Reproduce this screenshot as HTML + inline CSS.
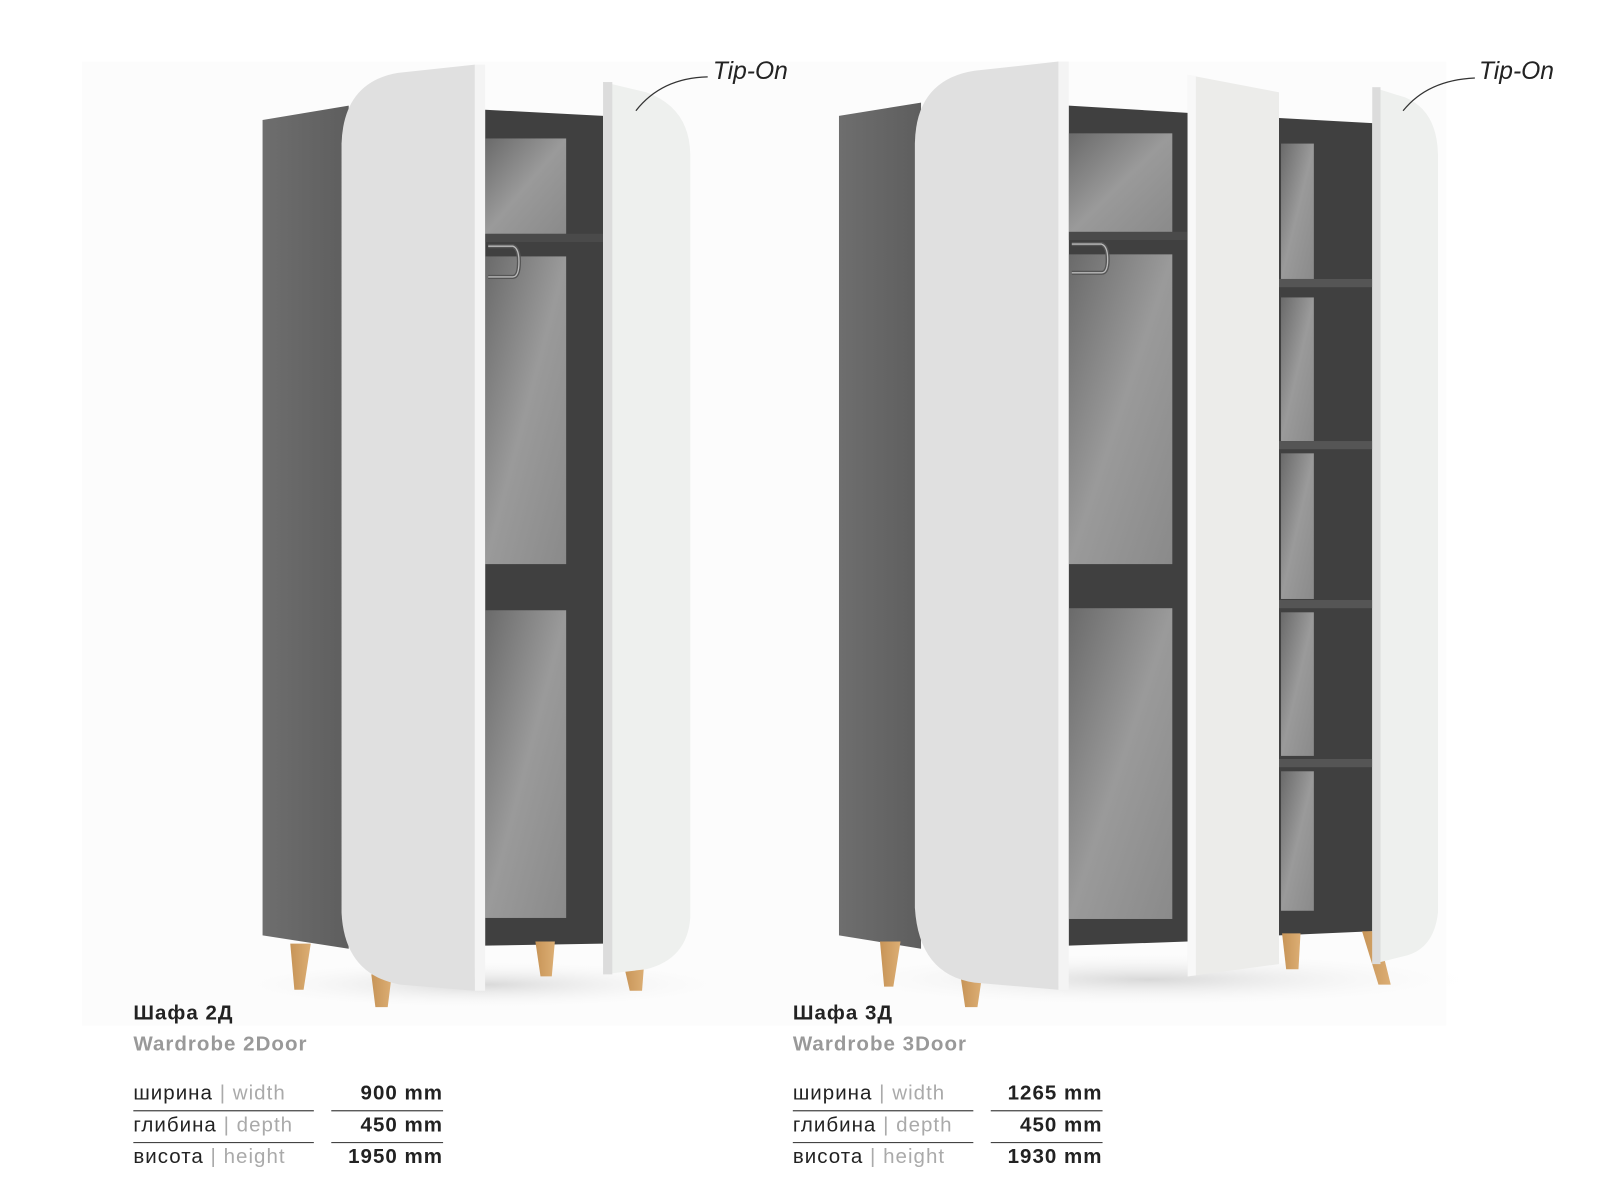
<!DOCTYPE html>
<html><head><meta charset="utf-8"><style>
html,body{margin:0;padding:0;background:#fff;width:1600px;height:1200px;overflow:hidden}
svg{display:block}
text{font-family:"Liberation Sans","DejaVu Sans",sans-serif}
</style></head><body>
<svg width="1600" height="1200" viewBox="0 0 1560 1170" xmlns="http://www.w3.org/2000/svg">
<defs>
<linearGradient id="back" x1="0" y1="0" x2="1" y2="1"><stop offset="0" stop-color="#6a6a6a"/><stop offset="0.5" stop-color="#9a9a9a"/><stop offset="1" stop-color="#8a8a8a"/></linearGradient>
<linearGradient id="side" x1="0" y1="0" x2="1" y2="0"><stop offset="0" stop-color="#6e6e6e"/><stop offset="1" stop-color="#5e5e5e"/></linearGradient>
<linearGradient id="wood" x1="0" y1="0" x2="1" y2="0"><stop offset="0" stop-color="#c79457"/><stop offset="1" stop-color="#dcae74"/></linearGradient>
<radialGradient id="sh" cx="0.5" cy="0.5" r="0.5"><stop offset="0" stop-color="#d8d8d8"/><stop offset="1" stop-color="#ffffff" stop-opacity="0"/></radialGradient>
</defs>
<rect x="80" y="60" width="1330" height="940" fill="#fcfcfc"/>
<ellipse cx="470" cy="960" rx="260" ry="25" fill="url(#sh)"/>
<ellipse cx="1120" cy="955" rx="330" ry="28" fill="url(#sh)"/>

<!-- LEFT WARDROBE -->
<polygon points="256,117 340,103 340,925 256,912" fill="url(#side)"/>
<polygon points="473,107 588,113 588,920 473,922" fill="#404040"/>
<rect x="473" y="135" width="79" height="93" fill="url(#back)"/>
<rect x="473" y="250" width="79" height="300" fill="url(#back)"/>
<rect x="473" y="595" width="79" height="300" fill="url(#back)"/>
<rect x="473" y="228" width="115" height="8" fill="#4a4a4a"/>
<path d="M476,240 H500 Q506,242 506,255 Q506,270 500,270 H476" fill="none" stroke="#555" stroke-width="4"/>
<path d="M476,240 H500 Q506,242 506,255 Q506,270 500,270 H476" fill="none" stroke="#bbb" stroke-width="1.3"/>
<polygon points="283,920 303,920 296,965 287,965" fill="url(#wood)"/>
<polygon points="362,950 382,950 378,982 366,982" fill="url(#wood)"/>
<polygon points="522,918 541,918 538,952 527,952" fill="url(#wood)"/>
<polygon points="608,940 628,940 626,966 614,966" fill="url(#wood)"/>
<path d="M463,63 L388,71 Q335,80 333,140 L333,890 Q336,950 390,960 L463,966 Z" fill="#e0e0e0"/>
<rect x="463" y="63" width="10" height="903" fill="#f4f4f4"/>
<path d="M588,80 L630,90 Q672,105 673,150 L673,895 Q670,935 630,945 L588,950 Z" fill="#eef0ee"/>
<rect x="588" y="80" width="9" height="870" fill="#dcdcdc"/>
<path d="M620,108 Q645,76 690,75" fill="none" stroke="#333" stroke-width="1.2"/>
<text x="695" y="77" font-size="24" font-style="italic" fill="#222">Tip-On</text>

<!-- RIGHT WARDROBE -->
<polygon points="818,113 898,100 898,925 818,912" fill="url(#side)"/>
<polygon points="1042,103 1158,110 1158,918 1042,922" fill="#404040"/>
<rect x="1042" y="130" width="101" height="98" fill="url(#back)"/>
<rect x="1042" y="248" width="101" height="302" fill="url(#back)"/>
<rect x="1042" y="593" width="101" height="303" fill="url(#back)"/>
<rect x="1042" y="226" width="116" height="8" fill="#4a4a4a"/>
<path d="M1045,238 H1074 Q1080,240 1080,253 Q1080,266 1074,266 H1045" fill="none" stroke="#555" stroke-width="4"/>
<path d="M1045,238 H1074 Q1080,240 1080,253 Q1080,266 1074,266 H1045" fill="none" stroke="#bbb" stroke-width="1.3"/>
<polygon points="1247,115 1338,120 1338,908 1247,912" fill="#404040"/>
<rect x="1249" y="140" width="32" height="132" fill="url(#back)"/>
<rect x="1249" y="290" width="32" height="140" fill="url(#back)"/>
<rect x="1249" y="442" width="32" height="142" fill="url(#back)"/>
<rect x="1249" y="597" width="32" height="140" fill="url(#back)"/>
<rect x="1249" y="752" width="32" height="136" fill="url(#back)"/>
<rect x="1247" y="272" width="91" height="8" fill="#555"/>
<rect x="1247" y="430" width="91" height="8" fill="#555"/>
<rect x="1247" y="585" width="91" height="8" fill="#555"/>
<rect x="1247" y="740" width="91" height="8" fill="#555"/>
<polygon points="858,918 878,918 871,962 862,962" fill="url(#wood)"/>
<polygon points="937,955 957,955 953,982 941,982" fill="url(#wood)"/>
<polygon points="1250,910 1268,910 1266,945 1254,945" fill="url(#wood)"/>
<polygon points="1328,908 1343,908 1356,960 1344,960" fill="url(#wood)"/>
<path d="M1032,60 L950,69 Q893,78 892,140 L892,885 Q896,950 950,958 L1032,965 Z" fill="#e0e0e0"/>
<rect x="1032" y="60" width="10" height="905" fill="#f4f4f4"/>
<polygon points="1158,73 1247,90 1247,940 1158,952" fill="#ececea"/>
<polygon points="1158,73 1166,74 1166,951 1158,952" fill="#f8f8f8"/>
<path d="M1338,85 L1370,95 Q1401,108 1402,150 L1402,890 Q1398,925 1370,932 L1338,940 Z" fill="#eef0ee"/>
<rect x="1338" y="85" width="8" height="855" fill="#dcdcdc"/>
<path d="M1368,108 Q1392,78 1438,76" fill="none" stroke="#333" stroke-width="1.2"/>
<text x="1442" y="77" font-size="24" font-style="italic" fill="#222">Tip-On</text>

<g font-size="20" letter-spacing="1">
<text x="130" y="994" font-weight="bold" fill="#222">Шафа 2Д</text>
<text x="130" y="1024" font-weight="bold" fill="#999">Wardrobe 2Door</text>
<text x="130" y="1072" fill="#222">ширина <tspan fill="#aaa">| width</tspan></text>
<text x="130" y="1103" fill="#222">глибина <tspan fill="#aaa">| depth</tspan></text>
<text x="130" y="1134" fill="#222">висота <tspan fill="#aaa">| height</tspan></text>
<text x="432" y="1072" text-anchor="end" font-weight="bold" fill="#222">900 mm</text>
<text x="432" y="1103" text-anchor="end" font-weight="bold" fill="#222">450 mm</text>
<text x="432" y="1134" text-anchor="end" font-weight="bold" fill="#222">1950 mm</text>
<text x="773" y="994" font-weight="bold" fill="#222">Шафа 3Д</text>
<text x="773" y="1024" font-weight="bold" fill="#999">Wardrobe 3Door</text>
<text x="773" y="1072" fill="#222">ширина <tspan fill="#aaa">| width</tspan></text>
<text x="773" y="1103" fill="#222">глибина <tspan fill="#aaa">| depth</tspan></text>
<text x="773" y="1134" fill="#222">висота <tspan fill="#aaa">| height</tspan></text>
<text x="1075" y="1072" text-anchor="end" font-weight="bold" fill="#222">1265 mm</text>
<text x="1075" y="1103" text-anchor="end" font-weight="bold" fill="#222">450 mm</text>
<text x="1075" y="1134" text-anchor="end" font-weight="bold" fill="#222">1930 mm</text>
</g>
<g stroke="#444" stroke-width="1.2">
<line x1="130" y1="1083" x2="306" y2="1083"/><line x1="323" y1="1083" x2="432" y2="1083"/>
<line x1="130" y1="1114" x2="306" y2="1114"/><line x1="323" y1="1114" x2="432" y2="1114"/>
<line x1="773" y1="1083" x2="949" y2="1083"/><line x1="966" y1="1083" x2="1075" y2="1083"/>
<line x1="773" y1="1114" x2="949" y2="1114"/><line x1="966" y1="1114" x2="1075" y2="1114"/>
</g>
</svg>
</body></html>
